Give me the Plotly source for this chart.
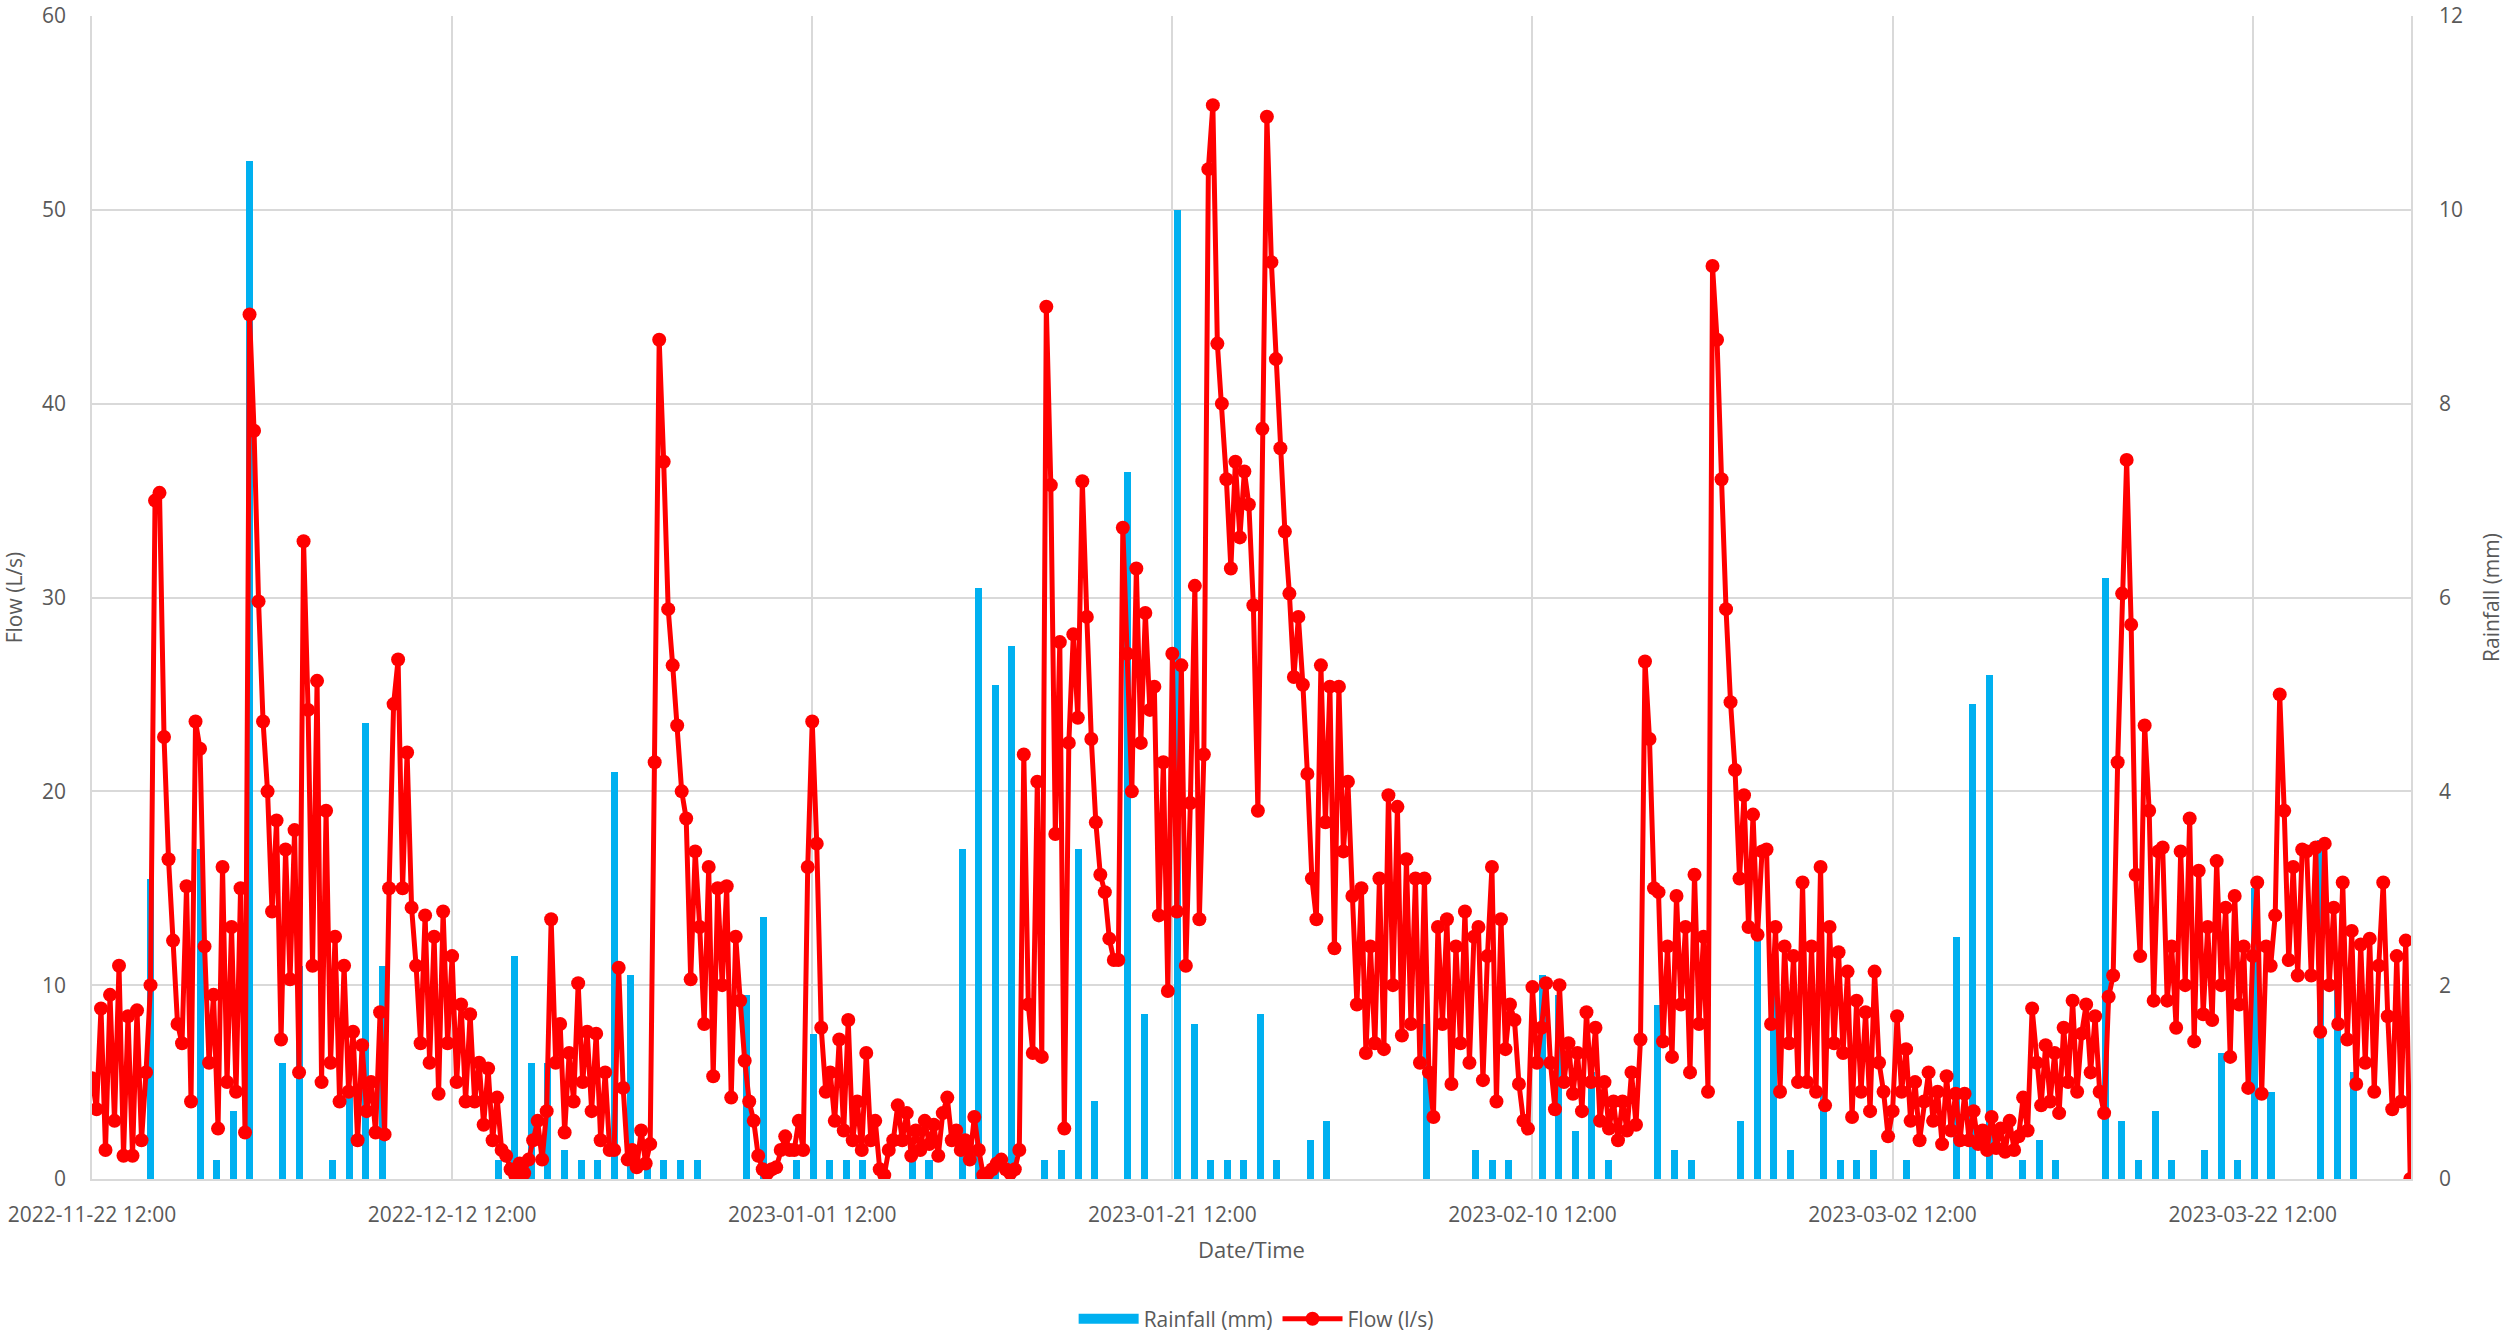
import pandas as pd
import plotly.graph_objects as go

# Flow (l/s), sampled every 6 hours, one list per 20-day block
flow_from_2022_11_22 = [
    5.2, 3.6, 8.8, 1.5, 9.5, 3.0, 11.0, 1.2, 8.4, 1.2, 8.7, 2.0,
    5.5, 10.0, 35.0, 35.4, 22.8, 16.5, 12.3, 8.0, 7.0, 15.1, 4.0, 23.6,
    22.2, 12.0, 6.0, 9.5, 2.6, 16.1, 5.0, 13.0, 4.5, 15.0, 2.4, 44.6,
    38.6, 29.8, 23.6, 20.0, 13.8, 18.5, 7.2, 17.0, 10.3, 18.0, 5.5, 32.9,
    24.2, 11.0, 25.7, 5.0, 19.0, 6.0, 12.5, 4.0, 11.0, 4.5, 7.6, 2.0,
    6.9, 3.5, 5.0, 2.4, 8.6, 2.3, 15.0, 24.5, 26.8, 15.0, 22.0, 14.0,
    11.0, 7.0, 13.6, 6.0, 12.5, 4.4, 13.8, 7.0,
]
flow_from_2022_12_12 = [
    11.5, 5.0, 9.0, 4.0, 8.5, 4.0, 6.0, 2.8, 5.7, 2.0, 4.2, 1.5,
    1.2, 0.5, 0.2, 0.8, 0.3, 1.0, 2.0, 3.0, 1.0, 3.5, 13.4, 6.0,
    8.0, 2.4, 6.5, 4.0, 10.1, 5.0, 7.6, 3.5, 7.5, 2.0, 5.5, 1.5,
    1.5, 10.9, 4.7, 1.0, 1.5, 0.6, 2.5, 0.8, 1.8, 21.5, 43.3, 37.0,
    29.4, 26.5, 23.4, 20.0, 18.6, 10.3, 16.9, 13.0, 8.0, 16.1, 5.3, 15.0,
    10.0, 15.1, 4.2, 12.5, 9.2, 6.1, 4.0, 3.0, 1.2, 0.5, 0.3, 0.5,
    0.6, 1.5, 2.2, 1.5, 1.5, 3.0, 1.5, 16.1,
]
flow_from_2023_01_01 = [
    23.6, 17.3, 7.8, 4.5, 5.5, 3.0, 7.2, 2.5, 8.2, 2.0, 4.0, 1.5,
    6.5, 2.0, 3.0, 0.5, 0.2, 1.5, 2.0, 3.8, 2.0, 3.4, 1.2, 2.5,
    1.5, 3.0, 1.8, 2.8, 1.2, 3.4, 4.2, 2.0, 2.5, 1.5, 2.0, 1.0,
    3.2, 1.5, 0.2, 0.3, 0.5, 0.8, 1.0, 0.5, 0.3, 0.5, 1.5, 21.9,
    9.0, 6.5, 20.5, 6.3, 45.0, 35.8, 17.8, 27.7, 2.6, 22.5, 28.1, 23.8,
    36.0, 29.0, 22.7, 18.4, 15.7, 14.8, 12.4, 11.3, 11.3, 33.6, 27.1, 20.0,
    31.5, 22.5, 29.2, 24.2, 25.4, 13.6, 21.5, 9.7,
]
flow_from_2023_01_21 = [
    27.1, 13.8, 26.5, 11.0, 19.4, 30.6, 13.4, 21.9, 52.1, 55.4, 43.1, 40.0,
    36.1, 31.5, 37.0, 33.1, 36.5, 34.8, 29.6, 19.0, 38.7, 54.8, 47.3, 42.3,
    37.7, 33.4, 30.2, 25.9, 29.0, 25.5, 20.9, 15.5, 13.4, 26.5, 18.4, 25.4,
    11.9, 25.4, 16.9, 20.5, 14.6, 9.0, 15.0, 6.5, 12.0, 7.0, 15.5, 6.7,
    19.8, 10.0, 19.2, 7.4, 16.5, 8.0, 15.5, 6.0, 15.5, 5.5, 3.2, 13.0,
    8.0, 13.4, 4.9, 12.0, 7.0, 13.8, 6.0, 12.5, 13.0, 5.1, 11.5, 16.1,
    4.0, 13.4, 6.7, 9.0, 8.2, 4.9, 3.0, 2.6,
]
flow_from_2023_02_10 = [
    9.9, 6.0, 7.8, 10.1, 6.0, 3.6, 10.0, 5.0, 7.0, 4.4, 6.5, 3.5,
    8.6, 5.0, 7.8, 3.0, 5.0, 2.6, 4.0, 2.0, 4.0, 2.5, 5.5, 2.8,
    7.2, 26.7, 22.7, 15.0, 14.8, 7.1, 12.0, 6.3, 14.6, 9.0, 13.0, 5.5,
    15.7, 8.0, 12.5, 4.5, 47.1, 43.3, 36.1, 29.4, 24.6, 21.1, 15.5, 19.8,
    13.0, 18.8, 12.6, 16.9, 17.0, 8.0, 13.0, 4.5, 12.0, 7.0, 11.5, 5.0,
    15.3, 5.0, 12.0, 4.5, 16.1, 3.8, 13.0, 7.0, 11.7, 6.5, 10.7, 3.2,
    9.2, 4.5, 8.6, 3.5, 10.7, 6.0, 4.5, 2.2,
]
flow_from_2023_03_02 = [
    3.5, 8.4, 4.5, 6.7, 3.0, 5.0, 2.0, 4.0, 5.5, 3.0, 4.5, 1.8,
    5.3, 2.5, 4.4, 2.0, 4.4, 2.0, 3.5, 1.8, 2.5, 1.5, 3.2, 1.6,
    2.6, 1.4, 3.0, 1.5, 2.2, 4.2, 2.5, 8.8, 6.0, 3.8, 6.9, 4.0,
    6.5, 3.4, 7.8, 5.0, 9.2, 4.5, 7.5, 9.0, 5.5, 8.4, 4.5, 3.4,
    9.4, 10.5, 21.5, 30.2, 37.1, 28.6, 15.7, 11.5, 23.4, 19.0, 9.2, 16.9,
    17.1, 9.2, 12.0, 7.8, 16.9, 10.0, 18.6, 7.1, 15.9, 8.5, 13.0, 8.2,
    16.4, 10.0, 14.0, 6.3, 14.6, 9.0, 12.0, 4.7,
]
flow_from_2023_03_22 = [
    11.5, 15.3, 4.4, 12.0, 11.0, 13.6, 25.0, 19.0, 11.3, 16.1, 10.5, 17.0,
    16.9, 10.5, 17.1, 7.6, 17.3, 10.0, 14.0, 8.0, 15.3, 7.2, 12.8, 4.9,
    12.1, 6.0, 12.4, 4.5, 11.0, 15.3, 8.4, 3.6, 11.5, 4.0, 12.3, 0.0,
]

# Rainfall (mm) per logger interval (22 h 05 min)
rain_first_half = [
    0, 0, 0, 3.1, 0, 0, 3.4, 0.2, 0.7, 10.5, 0, 1.2, 2.2, 0,
    0.2, 0.9, 4.7, 2.2, 0, 0, 0, 0, 0, 0, 0.2, 2.3, 1.2, 1.2,
    0.3, 0.2, 0.2, 4.2, 2.1, 0.2, 0.2, 0.2, 0.2, 0, 0, 1.9, 2.7, 0,
    0.2, 1.5, 0.2, 0.2, 0.2, 0, 0, 0.2, 0.2, 0, 3.4, 6.1, 5.1, 5.5,
    0, 0.2, 0.3, 3.4, 0.8, 0, 7.3, 1.7, 0, 10.0, 1.6, 0.2, 0.2, 0.2,
]
rain_second_half = [
    1.7, 0.2, 0, 0.4, 0.6, 0, 0, 0, 0, 0, 1.6, 0, 0, 0.3,
    0.2, 0.2, 0, 2.1, 1.9, 0.5, 1.1, 0.2, 0, 0, 1.8, 0.3, 0.2, 0,
    0, 0.6, 2.5, 2.2, 0.3, 0, 0.9, 0.2, 0.2, 0.3, 0, 0.2, 0, 0,
    2.5, 4.9, 5.2, 0, 0.2, 0.4, 0.2, 0, 0, 6.2, 0.6, 0.2, 0.7, 0.2,
    0, 0.3, 1.3, 0.2, 3.0, 0.9, 0, 0, 3.5, 2.0, 1.1, 0, 0, 0,
]

flow = (flow_from_2022_11_22 + flow_from_2022_12_12 + flow_from_2023_01_01
        + flow_from_2023_01_21 + flow_from_2023_02_10 + flow_from_2023_03_02
        + flow_from_2023_03_22)
rain = rain_first_half + rain_second_half

flow_time = pd.date_range("2022-11-22 12:00", periods=len(flow), freq="6h")
rain_time = pd.date_range("2022-11-22 23:28", periods=len(rain), freq="1325min")

GRID = "#D9D9D9"
TEXT = "#595959"
FONT = "Open Sans"
BLUE = "#00B0F0"
RED = "#FF0000"
DAY_MS = 86400000

fig = go.Figure()

# rainfall bars (legend key drawn by the wide swatch trace below)
fig.add_trace(go.Bar(
    x=rain_time, y=rain, name="Rainfall (mm)",
    marker=dict(color=BLUE, line=dict(width=0)),
    width=0.39 * DAY_MS, yaxis="y", showlegend=False,
))
fig.add_trace(go.Scatter(
    x=[None], y=[None], name="Rainfall (mm)", mode="lines",
    line=dict(color=BLUE, width=13), yaxis="y", hoverinfo="skip",
))

fig.add_trace(go.Scatter(
    x=flow_time, y=flow, name="Flow (l/s)", mode="lines+markers",
    line=dict(color=RED, width=5),
    marker=dict(color=RED, size=14),
    yaxis="y2",
))

fig.update_layout(
    width=2511, height=1334,
    margin=dict(l=92, r=100, t=16, b=155, autoexpand=False),
    paper_bgcolor="white", plot_bgcolor="white",
    font=dict(family=FONT, size=21, color=TEXT),
    showlegend=True,
    legend=dict(orientation="h", x=0.502, xanchor="center", y=-0.1205,
                yanchor="middle", font=dict(size=21, color=TEXT),
                traceorder="normal", itemwidth=60, tracegroupgap=0),
    bargap=0,
    xaxis=dict(
        type="date", automargin=False,
        range=["2022-11-22 12:00", "2023-03-31 07:00"],
        tick0="2022-11-22 12:00", dtick=20 * DAY_MS,
        tickformat="%Y-%m-%d %H:%M",
        showgrid=True, gridcolor=GRID, gridwidth=1.5,
        showline=True, linecolor=GRID, linewidth=1.5,
        ticks="", ticklabelstandoff=16,
        title=dict(text="Date/Time", standoff=16, font=dict(size=22, color=TEXT)),
    ),
    yaxis=dict(
        side="right", range=[0, 12], dtick=2, automargin=False,
        showgrid=True, gridcolor=GRID, gridwidth=1.5, zeroline=False,
        showline=True, linecolor=GRID, linewidth=1.5,
        ticks="", ticklabelstandoff=22,
        title=dict(text="Rainfall (mm)", standoff=22, font=dict(size=21, color=TEXT)),
    ),
    yaxis2=dict(
        side="left", overlaying="y", range=[0, 60], dtick=10, automargin=False,
        showgrid=False, zeroline=False,
        showline=True, linecolor=GRID, linewidth=1.5,
        ticks="", ticklabelstandoff=20,
        title=dict(text="Flow (L/s)", standoff=18, font=dict(size=21, color=TEXT)),
    ),
)

fig.write_html("out.html")
